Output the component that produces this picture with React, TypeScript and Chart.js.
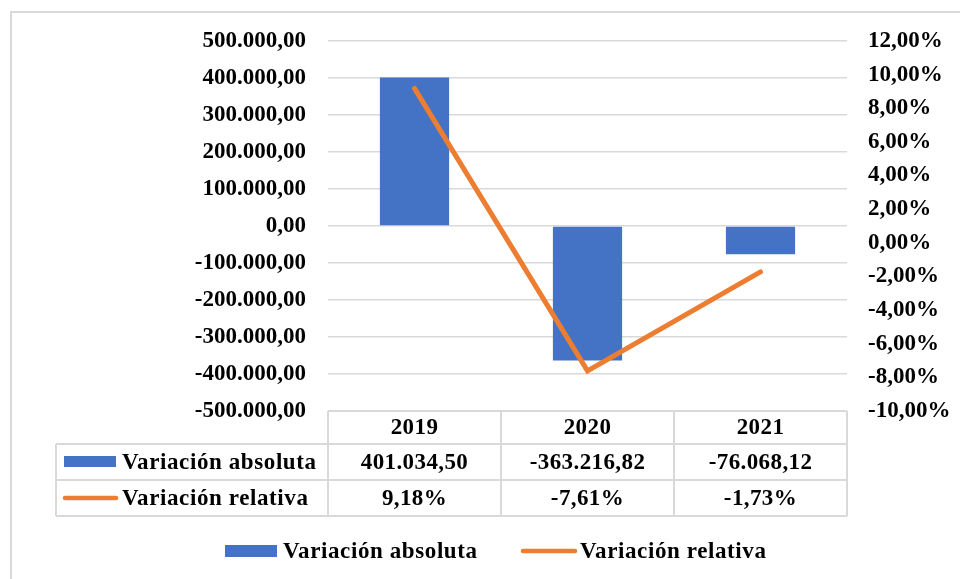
import React, { useEffect, useRef } from "react";
import { Chart, registerables } from "chart.js";

Chart.register(...registerables);

const categories = ["2019", "2020", "2021"];
const absoluteValues = [401034.5, -363216.82, -76068.12];
const relativeValues = [9.18, -7.61, -1.73];
const seriesNames = ["Variación absoluta", "Variación relativa"];

const BLUE = "#4472C4";
const ORANGE = "#ED7D31";
const GRID = "#d9d9d9";
const FONT_FAMILY = "'Liberation Serif', 'Times New Roman', serif";
const FONT_SIZE = 23;

function fmtNum(v: number): string {
  if (Math.abs(v) < 1e-9) v = 0;
  const neg = v < 0;
  const a = Math.abs(v).toFixed(2);
  const [i, d] = a.split(".");
  const ii = i.replace(/\B(?=(\d{3})+(?!\d))/g, ".");
  return (neg ? "-" : "") + ii + "," + d;
}
function fmtPct(v: number): string {
  return fmtNum(v) + "%";
}

const tablePlugin = {
  id: "dataTable",
  beforeDraw(chart: any) {
    const ctx = chart.ctx;
    ctx.save();
    ctx.fillStyle = "#ffffff";
    ctx.fillRect(0, 0, chart.width, chart.height);
    ctx.strokeStyle = GRID;
    ctx.lineWidth = 2;
    ctx.beginPath();
    ctx.moveTo(11, chart.height);
    ctx.lineTo(11, 12);
    ctx.lineTo(chart.width, 12);
    ctx.stroke();
    ctx.restore();
  },
  afterDraw(chart: any) {
    const ctx = chart.ctx;
    const area = chart.chartArea;
    const x = chart.scales.x;
    const top = area.bottom;
    const r1 = top + 33;
    const r2 = r1 + 36;
    const r3 = r2 + 36;
    const leftX = 56;
    const colW = (area.right - area.left) / categories.length;
    ctx.save();
    ctx.strokeStyle = GRID;
    ctx.lineWidth = 2;
    ctx.beginPath();
    ctx.moveTo(area.left, top);
    ctx.lineTo(area.right, top);
    [r1, r2, r3].forEach((y) => {
      ctx.moveTo(leftX, y);
      ctx.lineTo(area.right, y);
    });
    ctx.moveTo(leftX, r1);
    ctx.lineTo(leftX, r3);
    for (let i = 0; i <= categories.length; i++) {
      const xx = area.left + i * colW;
      ctx.moveTo(xx, top);
      ctx.lineTo(xx, r3);
    }
    ctx.stroke();

    ctx.fillStyle = "#000";
    ctx.font = `bold ${FONT_SIZE}px ${FONT_FAMILY}`;
    ctx.textBaseline = "middle";
    ctx.textAlign = "center";
    (ctx as any).letterSpacing = "0.4px";
    categories.forEach((c, i) => {
      const cx = x.getPixelForValue(i);
      ctx.fillText(c, cx, (top + r1) / 2 + 1);
      ctx.fillText(fmtNum(absoluteValues[i]), cx, (r1 + r2) / 2 + 1);
      ctx.fillText(fmtPct(relativeValues[i]), cx, (r2 + r3) / 2 + 1);
    });

    (ctx as any).letterSpacing = "0.6px";
    ctx.textAlign = "left";
    ctx.fillStyle = BLUE;
    ctx.fillRect(64, (r1 + r2) / 2 - 6, 52, 11);
    ctx.fillStyle = "#000";
    ctx.fillText(seriesNames[0], 122, (r1 + r2) / 2 + 1);
    ctx.strokeStyle = ORANGE;
    ctx.lineWidth = 4.5;
    ctx.lineCap = "round";
    ctx.beginPath();
    ctx.moveTo(65, (r2 + r3) / 2);
    ctx.lineTo(116, (r2 + r3) / 2);
    ctx.stroke();
    ctx.fillText(seriesNames[1], 122, (r2 + r3) / 2 + 1);

    const ly = 551;
    ctx.fillStyle = BLUE;
    ctx.fillRect(225, ly - 6, 52, 12);
    ctx.fillStyle = "#000";
    ctx.fillText(seriesNames[0], 283, ly + 1);
    ctx.beginPath();
    ctx.moveTo(523, ly);
    ctx.lineTo(575, ly);
    ctx.stroke();
    ctx.fillText(seriesNames[1], 580, ly + 1);
    ctx.restore();
  },
};

export default function App() {
  const ref = useRef<HTMLCanvasElement | null>(null);
  useEffect(() => {
    document.body.style.margin = "0";
    const canvas = ref.current!;
    const font = { family: FONT_FAMILY, size: FONT_SIZE, weight: "bold" as const };
    const chart = new Chart(canvas, {
      type: "bar",
      data: {
        labels: categories,
        datasets: [
          {
            type: "bar",
            label: seriesNames[0],
            data: absoluteValues,
            backgroundColor: BLUE,
            yAxisID: "y",
            barPercentage: 0.4,
            categoryPercentage: 1,
            order: 1,
          },
          {
            type: "line",
            label: seriesNames[1],
            data: relativeValues,
            borderColor: ORANGE,
            backgroundColor: ORANGE,
            borderWidth: 5,
            borderCapStyle: "round",
            borderJoinStyle: "miter",
            pointRadius: 0,
            yAxisID: "y1",
            order: 0,
          } as any,
        ],
      },
      options: {
        responsive: false,
        animation: false,
        layout: { padding: { top: 41, bottom: 168, left: 0, right: 0 } },
        plugins: {
          legend: { display: false },
          tooltip: { enabled: false },
        },
        scales: {
          x: { display: false, offset: true },
          y: {
            position: "left",
            min: -500000,
            max: 500000,
            afterFit: (s: any) => {
              s.width = 328;
            },
            ticks: {
              stepSize: 100000,
              color: "#000",
              font,
              padding: 22,
              callback: (v: any) => fmtNum(Number(v)),
            },
            grid: { color: GRID, lineWidth: 1.5, drawTicks: false },
            border: { display: false },
          },
          y1: {
            position: "right",
            min: -10,
            max: 12,
            afterFit: (s: any) => {
              s.width = 113;
            },
            ticks: {
              stepSize: 2,
              color: "#000",
              font,
              padding: 21,
              callback: (v: any) => fmtPct(Number(v)),
            },
            grid: { display: false, drawTicks: false },
            border: { display: false },
          },
        },
      },
      plugins: [tablePlugin],
    });
    return () => chart.destroy();
  }, []);
  return (
    <div style={{ width: 960, height: 579 }}>
      <canvas ref={ref} width={960} height={579} style={{ display: "block", width: 960, height: 579 }} />
    </div>
  );
}
